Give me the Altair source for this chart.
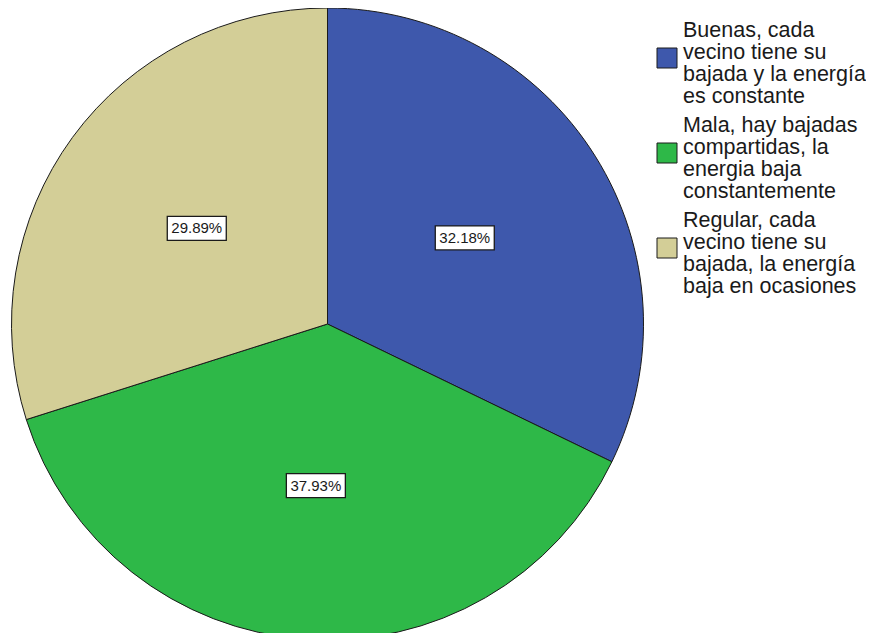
import altair as alt
import pandas as pd

categories = [
    "Buenas, cada vecino tiene su bajada y la energía es constante",
    "Mala, hay bajadas compartidas, la energia baja constantemente",
    "Regular, cada vecino tiene su bajada, la energía baja en ocasiones",
]
legend_lines = [
    "Buenas, cada|vecino tiene su|bajada y la energía|es constante",
    "Mala, hay bajadas|compartidas, la|energia baja|constantemente",
    "Regular, cada|vecino tiene su|bajada, la energía|baja en ocasiones",
]
values = [32.18, 37.93, 29.89]
labels = ["32.18%", "37.93%", "29.89%"]
colors = ["#3E58AC", "#2EB848", "#D3CE97"]

df = pd.DataFrame({
    "cat": categories,
    "leg": legend_lines,
    "value": values,
    "label": labels,
    "idx": [0, 1, 2],
})

CX, CY, R, LR = 319.5, 316, 316, 162
color_scale = alt.Scale(domain=categories, range=colors)

base = alt.Chart(df)

pie = base.mark_arc(radius=R, stroke="#1a1a1a", strokeWidth=1).encode(
    theta=alt.Theta("value:Q", stack=True),
    order=alt.Order("idx:Q"),
    x=alt.value(CX),
    y=alt.value(CY),
    color=alt.Color("cat:N", scale=color_scale, legend=None),
)

pos = base.transform_joinaggregate(
    total="sum(value)"
).transform_window(
    cum="sum(value)", sort=[alt.SortField("idx")], frame=[None, 0]
).transform_calculate(
    mid="(datum.cum - datum.value / 2) / datum.total * 2 * PI",
).transform_calculate(
    px=f"{CX} + {LR} * sin(datum.mid)",
    py=f"{CY} - {LR} * cos(datum.mid)",
).transform_calculate(
    x1="datum.px - 29.5", x2="datum.px + 29.5",
    y1="datum.py - 12", y2="datum.py + 12",
)

boxes = pos.mark_rect(fill="white", stroke="#1a1a1a", strokeWidth=1.3).encode(
    x=alt.X("x1:Q", scale=None, axis=None),
    x2="x2:Q",
    y=alt.Y("y1:Q", scale=None, axis=None),
    y2="y2:Q",
)

texts = pos.mark_text(font="Liberation Sans", fontSize=15, color="#1a1a1a").encode(
    x=alt.X("px:Q", scale=None, axis=None),
    y=alt.Y("py:Q", scale=None, axis=None),
    text="label:N",
)

# manual legend (layout only; entries come from the category data)
leg = base.transform_calculate(
    sy="50 + datum.idx * 95",
    ty="11.5 + datum.idx * 95",
    lines="split(datum.leg, '|')",
)

leg_sym = leg.mark_square(size=400, stroke="#1a1a1a", strokeWidth=1, opacity=1).encode(
    x=alt.value(659),
    y=alt.Y("sy:Q", scale=None, axis=None),
    color=alt.Color("cat:N", scale=color_scale, legend=None),
)

leg_txt = leg.mark_text(
    font="Liberation Sans", fontSize=21.5, lineHeight=22, align="left",
    baseline="top", color="#1a1a1a",
).encode(
    x=alt.value(675),
    y=alt.Y("ty:Q", scale=None, axis=None),
    text="lines:N",
)

chart = alt.layer(pie, boxes, texts, leg_sym, leg_txt).properties(
    width=858, height=625,
    autosize=alt.AutoSizeParams(type="none"),
    padding=0,
).configure_view(stroke=None)

chart.save("out.html", embed_options={"renderer": "svg", "actions": False})
